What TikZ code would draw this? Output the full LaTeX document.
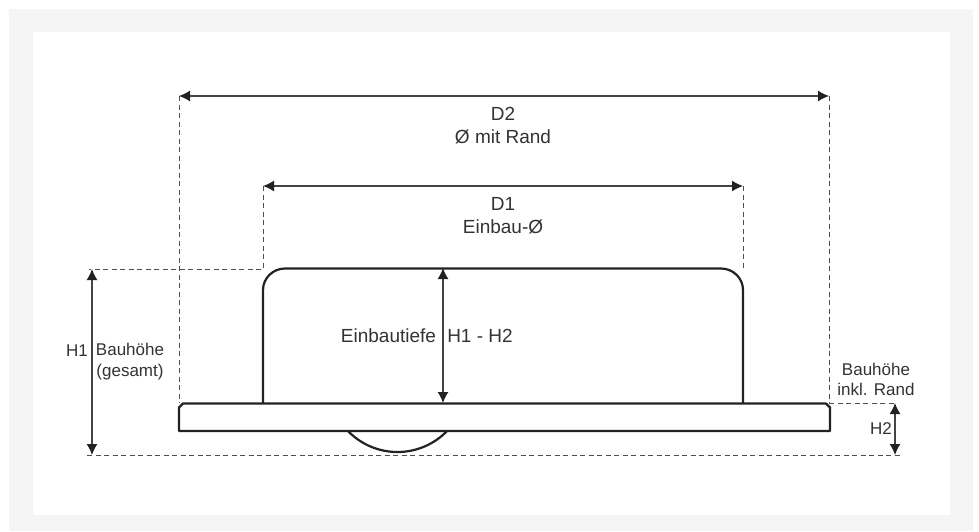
\documentclass[tikz,border=0pt]{standalone}
\usepackage{fontspec}
\setmainfont{Liberation Sans}
\usetikzlibrary{arrows.meta}
\definecolor{ink}{HTML}{222222}
\definecolor{txt}{HTML}{333333}
\definecolor{dimc}{HTML}{444444}
\definecolor{dashc}{HTML}{505050}
\definecolor{frame}{HTML}{F5F5F5}
\tikzset{
  part/.style={draw=ink,line width=2.2pt,line join=round},
  guide/.style={draw=dashc,line width=1pt,dash pattern=on 5pt off 3.5pt},
  measure/.style={draw=dimc,line width=1.3pt,{Latex[length=11pt,width=11pt,color=ink]}-{Latex[length=11pt,width=11pt,color=ink]}},
  lbl/.style={text=txt,font=\fontsize{17pt}{20pt}\selectfont,inner sep=0pt,align=center,anchor=center},
  lblbig/.style={lbl,font=\fontsize{19pt}{23pt}\selectfont},
}
\begin{document}
\begin{tikzpicture}[x=1pt,y=-1pt]
\useasboundingbox (0,0) rectangle (979,531);
\fill[frame] (9,9) rectangle (973,531);
\fill[white] (33,32) rectangle (950,515);
% anchors
\coordinate (d2l) at (179,96);
\coordinate (d2r) at (829,96);
\coordinate (d1l) at (263,186);
\coordinate (d1r) at (743,186);
\coordinate (flL) at (179,403);
\coordinate (flR) at (829,403);
\coordinate (h1t) at (92,269);
\coordinate (h1b) at (92,455);
\coordinate (ttop) at (443,268);
\coordinate (tbot) at (443,403);
\coordinate (h2t) at (895,403);
\coordinate (h2b) at (895,455);
\coordinate (gbL) at (87,455);
\coordinate (gbR) at (900,455);
\coordinate (gtL) at (89,269);
\coordinate (bend) at (263,269);
\coordinate (d1e) at (743,270);
% guides
\draw[guide] (d2l) -- (flL);
\draw[guide] (d2r) -- (flR);
\draw[guide] (d1l) -- (bend) -- (gtL);
\draw[guide] (d1r) -- (d1e);
\draw[guide] (flR) -- (h2t);
\draw[guide] (gbL) -- (gbR);
% part
\draw[part] (263,403) -- (263,290) .. controls (263,278) and (273,268.5) .. (285,268.5) -- (721,268.5) .. controls (733,268.5) and (743,278) .. (743,290) -- (743,403);
\draw[part] (183,403.5) -- (826,403.5) -- (830,407.5) -- (830,431) -- (179,431) -- (179,407.5) -- cycle;
\draw[part] (348,431) .. controls (375,459) and (420,459) .. (447,431);
% measures
\draw[measure] (d2l) -- (d2r);
\draw[measure] (d1l) -- (d1r);
\draw[measure] (h1t) -- (h1b);
\draw[measure] (ttop) -- (tbot);
\draw[measure] (h2t) -- (h2b);
% labels
\node[lblbig] (t1) at (503,126) {D2\\Ø mit Rand};
\node[lblbig] (t2) at (503,216) {D1\\Einbau-Ø};
\node[lbl] (t3) at (77,351) {H1};
\node[lbl] (t4) at (130,361.5) {Bauhöhe\\[1pt](gesamt)};
\node[lblbig] (t5) at (388.5,336) {Einbautiefe};
\node[lblbig] (t6) at (480,336) {H1 - H2};
\node[lbl] (t7) at (876,379) {Bauhöhe\\inkl. Rand};
\node[lbl] (t8) at (881,429) {H2};
\end{tikzpicture}
\end{document}
